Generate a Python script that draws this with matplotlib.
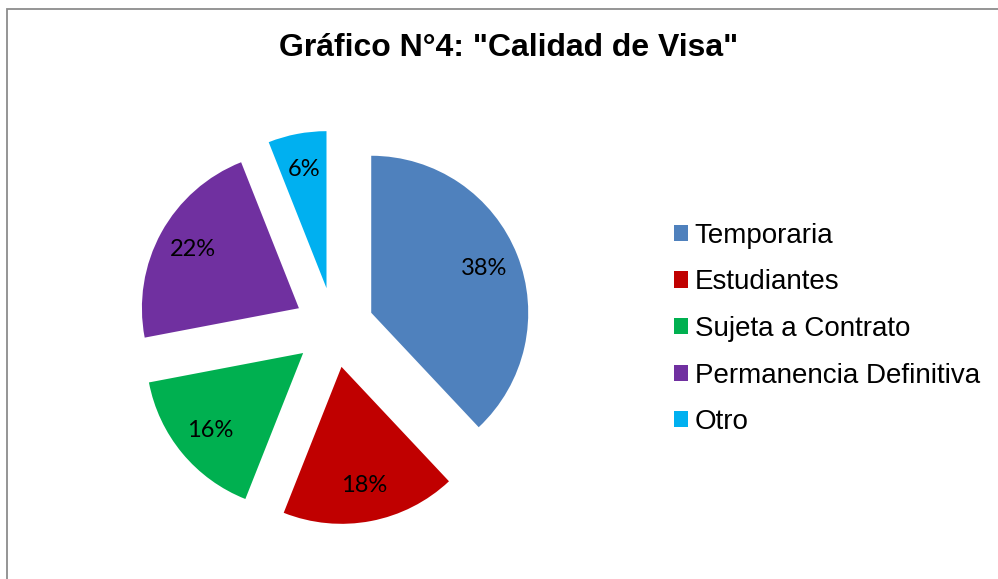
import matplotlib
matplotlib.use("Agg")
import matplotlib.pyplot as plt
from matplotlib.patches import Rectangle, Patch

categories = ["Temporaria", "Estudiantes", "Sujeta a Contrato", "Permanencia Definitiva", "Otro"]
values = [38, 18, 16, 22, 6]
colors = ["#4F81BD", "#C00000", "#00B050", "#7030A0", "#00B0F0"]
title = 'Gráfico N°4: "Calidad de Visa"'

W, H = 998, 579
fig = plt.figure(figsize=(W / 100, H / 100), dpi=100)
fig.patch.set_facecolor("white")

# chart-area border (only left and top visible)
fig.patches.append(Rectangle((7 / W, -0.1), 1.2, (H - 9) / H + 0.1, transform=fig.transFigure,
                             fill=False, edgecolor="#8c8c8c", linewidth=1.3))

cx, cy, r = 334, H - 327.5, 157
lim = 1.4
side = 2 * lim * r
ax = fig.add_axes([(cx - side / 2) / W, (cy - side / 2) / H, side / W, side / H])
wedges, texts, autotexts = ax.pie(values, colors=colors, startangle=90, counterclock=False,
                                  explode=[0.255] * len(values), autopct="%1.0f%%",
                                  pctdistance=0.77, radius=1,
                                  textprops=dict(fontsize=17, family=["Lato", "DejaVu Sans"], color="black"))
ax.set_xlim(-lim, lim)
ax.set_ylim(-lim, lim)
ax.set_aspect("equal")
ax.axis("off")

fig.text(509 / W, 1 - 48 / H, title, ha="center", va="center", fontsize=23, fontweight="bold",
         family=["Liberation Sans", "DejaVu Sans"])

handles = [Patch(facecolor=c, edgecolor="none") for c in colors]
leg = fig.legend(handles, categories, loc="center left", bbox_to_anchor=(674 / W, 1 - 329 / H),
                 frameon=False, prop=dict(family=["Liberation Sans", "DejaVu Sans"], size=20),
                 handlelength=0.52, handleheight=0.52, handletextpad=0.22, labelspacing=0.74,
                 borderpad=0, borderaxespad=0)

fig.savefig("out.png", dpi=100)
